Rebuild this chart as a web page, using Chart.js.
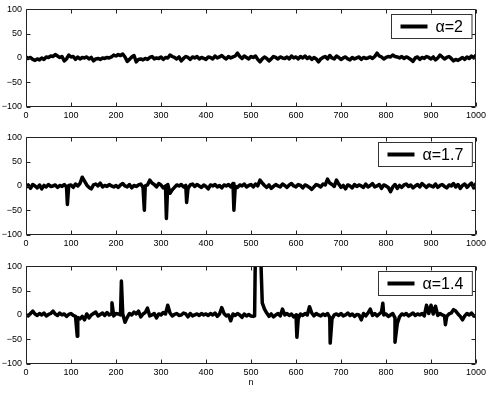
<!DOCTYPE html>
<html>
<head>
<meta charset="utf-8">
<script src="https://cdn.jsdelivr.net/npm/chart.js@4.4.1/dist/chart.umd.min.js"></script>
<style>
  html, body { margin: 0; padding: 0; background: #fff; }
  #wrap { position: relative; width: 491px; height: 393px; }
  canvas { position: absolute; left: 0; }
</style>
</head>
<body>
<div id="wrap">
  <canvas id="c1" width="491" height="128" style="top:0px"></canvas>
  <canvas id="c2" width="491" height="128" style="top:128px"></canvas>
  <canvas id="c3" width="491" height="136" style="top:257px"></canvas>
</div>
<script>
// ---- tick labels / axes ----
const xTicks = [0, 100, 200, 300, 400, 500, 600, 700, 800, 900, 1000];
const yTicks = [-100, -50, 0, 50, 100];
const xTitle = 'n';
const labels = ['\u03B1=2', '\u03B1=1.7', '\u03B1=1.4'];

// sample positions n = 0, 5, 10, ... 1000 (axis grid of the signal)
const nGrid = Array.from({length: 201}, (_, i) => i * 5);

// ---- series alpha = 2 (values on the 5-step grid) ----
const alpha2 = [
  2,-1,1,-3,-5,-2,-4,0,-3,2, 1,4,3,7,4,1,3,-6,-2,6,
  2,3,-3,2,-2,1,0,2,-2,1, -6,-2,-1,-3,0,-1,1,0,2,6,
  4,7,5,8,2,-7,-3,2,5,-8, -3,-2,-4,-1,-3,1,3,-2,0,-1,
  2,-3,1,0,6,3,1,-2,2,-6, -1,3,1,-3,2,0,3,-2,1,-1,
  -3,2,1,-2,4,0,2,5,1,-2, 3,0,2,4,10,3,-1,4,1,-2,
  3,1,4,-3,-8,-2,2,-1,-6,-2, 3,1,-2,2,0,-1,2,-2,4,0,
  2,-2,3,0,4,-1,2,-3,1,-2, -8,-2,1,3,-2,5,0,-2,4,1,
  -3,0,2,-2,-4,1,-2,0,2,-3, 1,-1,0,2,-1,3,10,4,2,-2,
  1,3,2,6,3,2,0,3,-1,2, 0,-3,-7,0,2,-3,1,-1,3,1,
  -2,2,-4,0,6,2,-2,1,3,-1, -6,-3,-5,-2,1,-3,2,-1,4,0,
  6
];
const alpha2SpikeN = [];
const alpha2SpikeY = [];

// ---- series alpha = 1.7 ----
const alpha17 = [
  -3,2,-5,3,0,-4,2,-6,1,-2, 3,-1,0,2,-3,1,-1,3,-2,1,
  2,-3,4,0,5,18,10,2,-3,-6, 2,4,0,6,-2,1,-1,3,0,-2,
  1,-3,2,5,0,-2,3,-4,1,-1, 2,4,-3,0,2,12,6,3,-2,5,
  2,-4,0,3,-15,-8,-3,2,0,3, -2,1,-5,2,4,-1,3,0,-3,2,
  -1,-6,2,0,3,-2,1,-4,2,0, 3,-2,5,-1,-3,2,0,4,-2,1,
  3,-2,4,0,12,6,1,-3,2,-5, -1,3,0,-2,4,1,-3,2,5,0,
  -2,3,1,-4,2,0,-3,-7,-2,3, 1,-2,4,2,14,6,3,-1,12,4,
  -3,1,-6,2,0,-4,3,-1,2,0, -3,4,-2,1,5,-2,0,3,-5,2,
  0,-3,-12,-2,3,-5,1,-3,2,4, -1,2,-4,0,3,-2,5,1,-3,2,
  0,-2,4,-3,1,3,-1,-4,2,0, 5,-2,3,-5,1,4,-3,2,6,-4,
  5
];
const alpha17SpikeN = [92, 263, 312, 357, 462];
const alpha17SpikeY = [-38, -50, -67, -34, -50];

// ---- series alpha = 1.4 ----
const alpha14 = [
  0,-2,3,8,2,-1,3,0,4,-2, 1,3,8,2,-1,4,0,2,-3,1,
  3,-1,-3,-5,-8,-3,-10,2,-6,0, 3,6,-2,1,4,-1,5,0,2,-2,
  3,2,0,2,-15,-5,3,0,6,2, 8,-4,2,5,14,-2,0,3,-6,2,
  0,5,2,20,4,-2,1,3,-1,0, 4,2,-4,3,-2,0,2,-1,3,0,
  2,-1,3,0,4,-3,2,15,3,-2, 0,-12,2,-1,3,0,-5,2,-2,1,
  -2,-3,150,170,150,25,12,4,-3,2, -4,0,3,-2,12,0,3,-1,2,-4,
  0,-8,2,-1,3,0,17,4,-2,3, 0,-2,2,-1,3,-5,-8,0,2,-1,
  3,-2,0,4,-1,2,-3,1,0,-10, 3,-2,4,12,-1,3,-2,2,6,0,
  2,-3,0,3,-6,-18,-4,2,0,3, -2,1,4,-1,2,0,3,-2,20,3,
  20,2,18,-1,3,0,-2,-3,2,4, 11,8,2,-3,-10,-2,3,0,4,-2,
  -3
];
const alpha14SpikeN = [114, 191, 212, 508, 522, 602, 676, 793, 820, 932];
const alpha14SpikeY = [-44, 25, 70, -2, 110, -46, -58, 24, -56, -20];

function buildPoints(base, sN, sY) {
  const pts = base.map((v, i) => ({x: nGrid[i], y: v}));
  sN.forEach((n, i) => pts.push({x: n, y: sY[i]}));
  pts.sort((a, b) => a.x - b.x);
  return pts;
}

const FONT = "'Liberation Sans', Arial, Helvetica, sans-serif";

const framePlugin = {
  id: 'frame',
  afterDatasetsDraw(chart) {
    const {ctx, chartArea: a, scales: {x, y}} = chart;
    ctx.save();
    ctx.strokeStyle = '#222';
    ctx.lineWidth = 1;
    ctx.beginPath();
    const L = Math.round(a.left) + 0.5, R = Math.round(a.right) - 0.5;
    const T = Math.round(a.top) + 0.5, B = Math.round(a.bottom) - 0.5;
    ctx.rect(L, T, R - L, B - T);
    const tl = 4;
    xTicks.forEach(v => {
      const px = Math.round(x.getPixelForValue(v)) + 0.5;
      ctx.moveTo(px, B); ctx.lineTo(px, B - tl);
      ctx.moveTo(px, T); ctx.lineTo(px, T + tl);
    });
    yTicks.forEach(v => {
      const py = Math.round(y.getPixelForValue(v)) + 0.5;
      ctx.moveTo(L, py); ctx.lineTo(L + tl, py);
      ctx.moveTo(R, py); ctx.lineTo(R - tl, py);
    });
    ctx.stroke();

    // legend box (inside top-right of the axes)
    const ds = chart.data.datasets[0];
    ctx.font = '16px ' + FONT;
    const tw = ctx.measureText(ds.label).width;
    const padL = 9, lineLen = 27, gap = 8, padR = 9, h = 24;
    const w = padL + lineLen + gap + tw + padR;
    const bx = Math.round(a.right - 4.5 - w) + 0.5;
    const by = Math.round(a.top + 5) + 0.5;
    ctx.fillStyle = '#fff';
    ctx.fillRect(bx, by, w, h);
    ctx.strokeStyle = '#333';
    ctx.lineWidth = 1;
    ctx.strokeRect(bx, by, w, h);
    ctx.strokeStyle = '#000';
    ctx.lineWidth = 4;
    ctx.lineCap = 'butt';
    ctx.beginPath();
    ctx.moveTo(bx + padL, by + h / 2);
    ctx.lineTo(bx + padL + lineLen, by + h / 2);
    ctx.stroke();
    ctx.fillStyle = '#000';
    ctx.textBaseline = 'middle';
    ctx.textAlign = 'left';
    ctx.fillText(ds.label, bx + padL + lineLen + gap, by + h / 2 + 1);
    ctx.restore();
  }
};

function makeChart(id, label, pts, xHeight, withTitle) {
  return new Chart(document.getElementById(id), {
    type: 'line',
    data: {
      datasets: [{
        label: label,
        data: pts,
        borderColor: '#000',
        borderWidth: 3.5,
        pointRadius: 0,
        tension: 0,
        borderJoinStyle: 'round',
        borderCapStyle: 'round',
        clip: 0
      }]
    },
    options: {
      responsive: false,
      devicePixelRatio: 1,
      animation: false,
      layout: { padding: { left: 0, right: 15, top: 9, bottom: 0 } },
      plugins: { legend: { display: false }, tooltip: { enabled: false } },
      scales: {
        x: {
          type: 'linear', min: 0, max: 1000,
          afterBuildTicks: s => { s.ticks = xTicks.map(v => ({value: v})); },
          afterFit: s => { s.height = xHeight; },
          grid: { display: false, drawTicks: false },
          border: { display: false },
          ticks: { color: '#000', font: { family: FONT, size: 9 }, padding: 4, maxRotation: 0, autoSkip: false,
                   callback: v => String(v) },
          title: { display: withTitle, text: xTitle, color: '#000', font: { family: FONT, size: 9 }, padding: { top: 0, bottom: 5 } }
        },
        y: {
          min: -100, max: 100,
          afterBuildTicks: s => { s.ticks = yTicks.map(v => ({value: v})); },
          afterFit: s => { s.width = 26; },
          grid: { display: false, drawTicks: false },
          border: { display: false },
          ticks: { color: '#000', font: { family: FONT, size: 9 }, padding: 4,
                   callback: v => (v < 0 ? '\u2212' + Math.abs(v) : String(v)) }
        }
      }
    },
    plugins: [framePlugin]
  });
}

makeChart('c1', labels[0], buildPoints(alpha2, alpha2SpikeN, alpha2SpikeY), 21.5, false);
makeChart('c2', labels[1], buildPoints(alpha17, alpha17SpikeN, alpha17SpikeY), 21.5, false);
makeChart('c3', labels[2], buildPoints(alpha14, alpha14SpikeN, alpha14SpikeY), 29.5, true);
</script>
</body>
</html>
